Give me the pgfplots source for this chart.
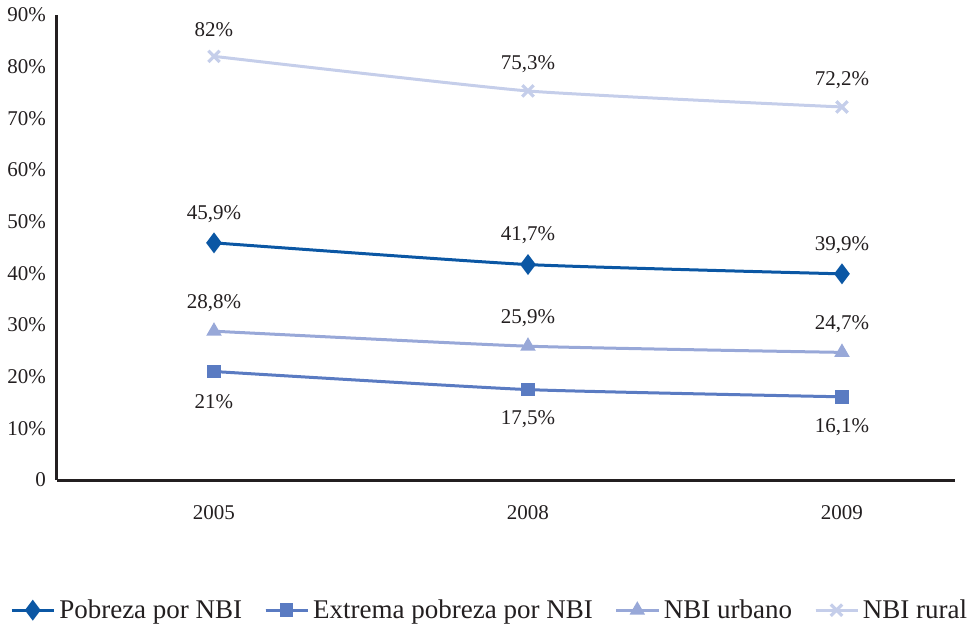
\documentclass[border=0pt]{standalone}
\usepackage{pgfplots}
\pgfplotsset{compat=1.18}
\usepackage{fontspec}
\setmainfont{Liberation Serif}
\definecolor{cPob}{HTML}{0B57A4}
\definecolor{cExt}{HTML}{5A7BC2}
\definecolor{cUrb}{HTML}{98A8D8}
\definecolor{cRur}{HTML}{C5CEEA}
\definecolor{txt}{HTML}{231F20}
\begin{document}
\begin{tikzpicture}
\useasboundingbox (-28.5bp,-75bp) rectangle (459bp,240bp);
\begin{axis}[
    scale only axis,
    width=449bp, height=232.5bp,
    xmin=-0.5, xmax=2.36,
    ymin=0, ymax=90,
    axis x line=bottom, axis y line=left,
    axis line style={line width=1.5bp, color=txt, -},
    major tick length=0pt,
    xtick={0,1,2}, xticklabels={2005,2008,2009},
    ytick={0,10,...,90},
    yticklabels={0,10\%,20\%,30\%,40\%,50\%,60\%,70\%,80\%,90\%},
    tick label style={font=\fontsize{10.5bp}{12bp}\selectfont, text=txt},
    xticklabel style={yshift=-9bp},
    yticklabel style={xshift=-2bp},
    legend columns=4,
    legend style={at={(0.483,-0.28)}, anchor=center, draw=none,
        font=\fontsize{13.5bp}{15bp}\selectfont, text=txt,
        /tikz/every even column/.append style={column sep=9bp}},
    legend image code/.code={
        \draw[#1] (0bp,0bp) -- (21bp,0bp);
        \draw[#1, mark repeat=2, mark phase=2] plot coordinates {(0bp,0bp) (10.5bp,0bp) (21bp,0bp)};},
    nodes near coords,
    point meta=explicit symbolic,
    every node near coord/.append style={font=\fontsize{10.5bp}{12bp}\selectfont, text=txt, anchor=center},
    clip=false,
]
\addplot[cPob, line width=1.5bp, smooth, tension=0.3, mark=diamond*, mark size=4bp,
    every node near coord/.append style={yshift=14.5bp}]
    coordinates {(0,45.9)[45,9\%] (1,41.7)[41,7\%] (2,39.9)[39,9\%]};
\addlegendentry{Pobreza por NBI}
\addplot[cExt, line width=1.5bp, smooth, tension=0.3, mark=square*, mark size=2.6bp,
    every node near coord/.append style={yshift=-15bp}]
    coordinates {(0,21.0)[21\%] (1,17.5)[17,5\%] (2,16.1)[16,1\%]};
\addlegendentry{Extrema pobreza por NBI}
\addplot[cUrb, line width=1.5bp, smooth, tension=0.3, mark=triangle*, mark size=3bp,
    every node near coord/.append style={yshift=14bp}]
    coordinates {(0,28.8)[28,8\%] (1,25.9)[25,9\%] (2,24.7)[24,7\%]};
\addlegendentry{NBI urbano}
\addplot[cRur, line width=1.5bp, smooth, tension=0.3, mark=x, mark size=4bp,
    mark options={line width=1.6bp},
    every node near coord/.append style={yshift=13.5bp}]
    coordinates {(0,82.0)[82\%] (1,75.3)[75,3\%] (2,72.2)[72,2\%]};
\addlegendentry{NBI rural}
\end{axis}
\end{tikzpicture}
\end{document}
